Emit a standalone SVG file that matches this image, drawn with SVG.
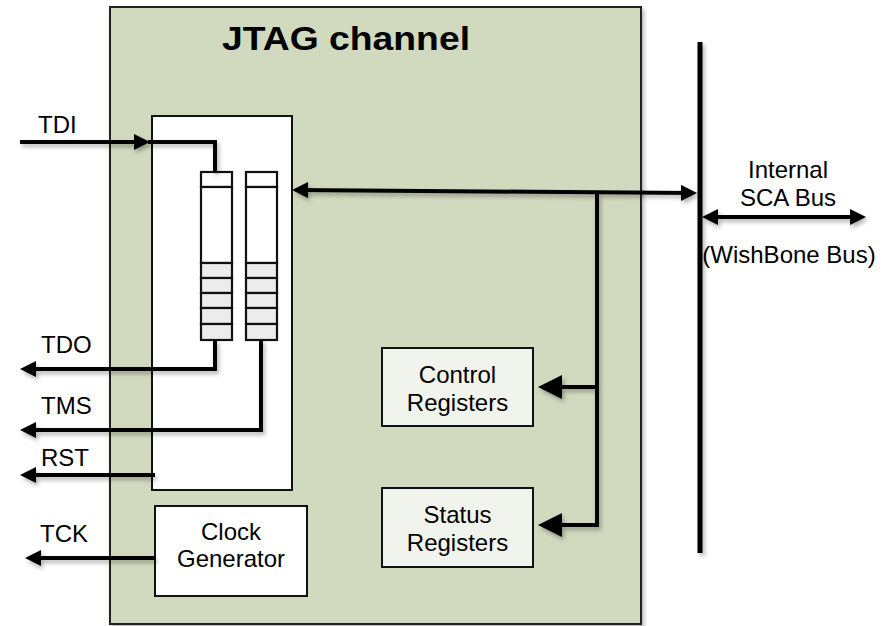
<svg xmlns="http://www.w3.org/2000/svg" width="887" height="626" viewBox="0 0 887 626">
  <style>
    text { font-family: "Liberation Sans", Arial, sans-serif; fill: #000; }
    .lbl { font-size: 24px; }
    .mid { text-anchor: middle; }
    .title { font-size: 33px; font-weight: bold; }
    .frame { fill: #d1dabf; stroke: #222; stroke-width: 2; }
    .block { fill: #ffffff; stroke: #111; stroke-width: 2; }
    .reg { fill: #f1f3ed; stroke: #111; stroke-width: 2; }
    .cell { fill: #ffffff; stroke: #111; stroke-width: 2.2; }
    .cellg { fill: #ececec; stroke: #111; stroke-width: 2.2; }
    .wire { fill: none; stroke: #000; stroke-width: 4; }
    .bus { fill: none; stroke: #000; stroke-width: 5; }
  </style>
  <defs>
    <filter id="shadow" x="-10%" y="-10%" width="130%" height="130%">
      <feDropShadow dx="2" dy="3" stdDeviation="2" flood-color="#000" flood-opacity="0.3"/>
    </filter>
    <marker id="arr" markerUnits="userSpaceOnUse" markerWidth="16" markerHeight="16" viewBox="0 0 16 16" refX="12" refY="8" orient="auto-start-reverse">
      <path d="M0,0 L16,8 L0,16 z" fill="#000"/>
    </marker>
    <marker id="arrL" markerUnits="userSpaceOnUse" markerWidth="24" markerHeight="24" viewBox="0 0 24 24" refX="19" refY="12" orient="auto-start-reverse">
      <path d="M0,0 L24,12 L0,24 z" fill="#000"/>
    </marker>
  </defs>

  <rect width="887" height="626" fill="#ffffff"/>

  <!-- JTAG channel frame -->
  <g id="jtag-channel">
    <rect class="frame" x="110" y="7" width="531" height="617" filter="url(#shadow)"/>
    <text class="title" x="222" y="50" textLength="248" lengthAdjust="spacingAndGlyphs">JTAG channel</text>
  </g>

  <!-- shift register block -->
  <g id="shift-registers">
    <rect class="block" x="152" y="116" width="140" height="374"/>
    <g id="reg-a">
      <rect class="cell" x="201" y="172" width="31" height="15"/>
      <rect class="cell" x="201" y="187" width="31" height="76"/>
      <rect class="cellg" x="201" y="263" width="31" height="15"/>
      <rect class="cellg" x="201" y="278" width="31" height="15"/>
      <rect class="cellg" x="201" y="293" width="31" height="15"/>
      <rect class="cellg" x="201" y="308" width="31" height="16"/>
      <rect class="cellg" x="201" y="324" width="31" height="16"/>
    </g>
    <g id="reg-b">
      <rect class="cell" x="246" y="172" width="31" height="15"/>
      <rect class="cell" x="246" y="187" width="31" height="76"/>
      <rect class="cellg" x="246" y="263" width="31" height="15"/>
      <rect class="cellg" x="246" y="278" width="31" height="15"/>
      <rect class="cellg" x="246" y="293" width="31" height="15"/>
      <rect class="cellg" x="246" y="308" width="31" height="16"/>
      <rect class="cellg" x="246" y="324" width="31" height="16"/>
    </g>
  </g>

  <g id="clock-generator">
    <rect class="block" x="155" y="506" width="152" height="90"/>
    <text class="lbl mid" x="231" y="540">Clock</text>
    <text class="lbl mid" x="231" y="567">Generator</text>
  </g>

  <g id="control-registers">
    <rect class="reg" x="382" y="348" width="151" height="78"/>
    <text class="lbl mid" x="457.5" y="383">Control</text>
    <text class="lbl mid" x="457.5" y="411">Registers</text>
  </g>

  <g id="status-registers">
    <rect class="reg" x="382" y="488" width="151" height="79"/>
    <text class="lbl mid" x="457.5" y="523">Status</text>
    <text class="lbl mid" x="457.5" y="551">Registers</text>
  </g>

  <!-- signal and bus connectors -->
  <g id="connectors" filter="url(#shadow)">
    <path class="wire" d="M20,142 H146" marker-end="url(#arr)"/>
    <path class="wire" d="M148,142 H215 V172"/>
    <path class="wire" d="M215,340 V369 H24" marker-end="url(#arr)"/>
    <path class="wire" d="M261,340 V430 H24" marker-end="url(#arr)"/>
    <path class="wire" d="M155,475 H24" marker-end="url(#arr)"/>
    <path class="wire" d="M155,558 H29" marker-end="url(#arr)"/>
    <path class="wire" d="M296,190 L693,193" marker-start="url(#arr)" marker-end="url(#arr)"/>
    <path class="wire" d="M597,192 V525 H543" marker-end="url(#arrL)"/>
    <path class="wire" d="M597,387 H543" marker-end="url(#arrL)"/>
    <path class="bus" d="M700,42 V553"/>
    <path class="wire" d="M706,217 H862" marker-start="url(#arr)" marker-end="url(#arr)"/>
  </g>

  <!-- port labels -->
  <g id="labels">
    <text class="lbl" x="38" y="133">TDI</text>
    <text class="lbl" x="41" y="353">TDO</text>
    <text class="lbl" x="41" y="414">TMS</text>
    <text class="lbl" x="41" y="466">RST</text>
    <text class="lbl" x="40" y="542">TCK</text>
    <text class="lbl mid" x="788" y="178">Internal</text>
    <text class="lbl mid" x="788" y="206">SCA Bus</text>
    <text class="lbl mid" x="789" y="263">(WishBone Bus)</text>
  </g>
</svg>
